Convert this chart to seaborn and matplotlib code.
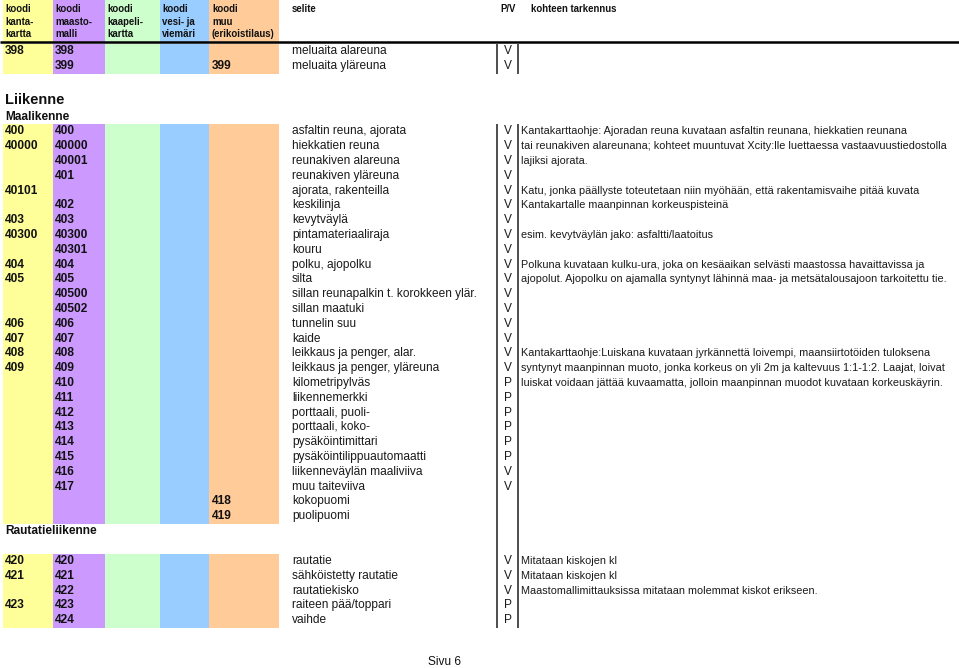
import numpy as np
import matplotlib
matplotlib.use("Agg")
import matplotlib.pyplot as plt
import seaborn as sns
from matplotlib.colors import ListedColormap

# --- Table content ---
HEADERS = [
    ["koodi", "kanta-", "kartta"],
    ["koodi", "maasto-", "malli"],
    ["koodi", "kaapeli-", "kartta"],
    ["koodi", "vesi- ja", "viemäri"],
    ["koodi", "muu", "(erikoistilaus)"],
]
COL_COLORS = ["#FFFF99", "#CC99FF", "#CCFFCC", "#99CCFF", "#FFCC99"]

# meluaidat
melu_kanta = ["398", ""]
melu_maasto = ["398", "399"]
melu_muu = ["", "399"]
melu_selite = ["meluaita alareuna", "meluaita yläreuna"]
melu_pv = ["V", "V"]
melu_tark = ["", ""]

# Liikenne / Maalikenne
maali_kanta = ["400", "40000", "", "", "40101", "", "403", "40300", "", "404", "405",
               "", "", "406", "407", "408", "409", "", "", "", "", "", "", "", "",
               "", ""]
maali_maasto = ["400", "40000", "40001", "401", "", "402", "403", "40300", "40301",
                "404", "405", "40500", "40502", "406", "407", "408", "409", "410",
                "411", "412", "413", "414", "415", "416", "417", "", ""]
maali_muu = [""] * 25 + ["418", "419"]
maali_selite = ["asfaltin reuna, ajorata", "hiekkatien reuna", "reunakiven alareuna",
                "reunakiven yläreuna", "ajorata, rakenteilla", "keskilinja", "kevytväylä",
                "pintamateriaaliraja", "kouru", "polku, ajopolku", "silta",
                "sillan reunapalkin t. korokkeen ylär.", "sillan maatuki", "tunnelin suu",
                "kaide", "leikkaus ja penger, alar.", "leikkaus ja penger, yläreuna",
                "kilometripylväs", "liikennemerkki", "porttaali, puoli-", "porttaali, koko-",
                "pysäköintimittari", "pysäköintilippuautomaatti", "liikenneväylän maaliviiva",
                "muu taiteviiva", "kokopuomi", "puolipuomi"]
maali_pv = ["V"] * 17 + ["P"] * 6 + ["V", "V", "", ""]
maali_tark = [""] * 27
maali_tark[0] = "Kantakarttaohje: Ajoradan reuna kuvataan asfaltin reunana, hiekkatien reunana"
maali_tark[1] = "tai reunakiven alareunana; kohteet muuntuvat Xcity:lle luettaessa vastaavuustiedostolla"
maali_tark[2] = "lajiksi ajorata."
maali_tark[4] = "Katu, jonka päällyste toteutetaan niin myöhään, että rakentamisvaihe pitää kuvata"
maali_tark[5] = "Kantakartalle maanpinnan korkeuspisteinä"
maali_tark[7] = "esim. kevytväylän jako: asfaltti/laatoitus"
maali_tark[9] = "Polkuna kuvataan kulku-ura, joka on kesäaikan selvästi maastossa havaittavissa ja"
maali_tark[10] = "ajopolut. Ajopolku on ajamalla syntynyt lähinnä maa- ja metsätalousajoon tarkoitettu tie."
maali_tark[15] = "Kantakarttaohje:Luiskana kuvataan jyrkännettä loivempi, maansiirtotöiden tuloksena"
maali_tark[16] = "syntynyt maanpinnan muoto, jonka korkeus on yli 2m ja kaltevuus 1:1-1:2. Laajat, loivat"
maali_tark[17] = "luiskat voidaan jättää kuvaamatta, jolloin maanpinnan muodot kuvataan korkeuskäyrin."

# Rautatieliikenne
rata_kanta = ["420", "421", "", "423", ""]
rata_maasto = ["420", "421", "422", "423", "424"]
rata_muu = [""] * 5
rata_selite = ["rautatie", "sähköistetty rautatie", "rautatiekisko",
               "raiteen pää/toppari", "vaihde"]
rata_pv = ["V", "V", "V", "P", "P"]
rata_tark = ["Mitataan kiskojen kl", "Mitataan kiskojen kl",
             "Maastomallimittauksissa mitataan molemmat kiskot erikseen.", "", ""]

# --- Layout (pixels) ---
W, H = 959, 668
COL_W = [50, 52, 55, 49, 70]
BAND_X = 3
COL_X = [5, 55, 107, 162, 212]
PITCH = 14.8
X_SELITE, X_PV, X_TARK = 292, 508, 521
VLINES = [497, 518]

sns.set_theme(style="white")
plt.rcParams["font.family"] = ["Liberation Sans", "DejaVu Sans"]

fig = plt.figure(figsize=(W / 100, H / 100), dpi=100)
cmap = ListedColormap(COL_COLORS)
col_index = np.repeat(np.arange(len(COL_W)), COL_W)[None, :]


def band(top, bottom):
    ax = fig.add_axes([BAND_X / W, 1 - bottom / H, sum(COL_W) / W, (bottom - top) / H])
    sns.heatmap(col_index, cmap=cmap, vmin=-0.5, vmax=4.5, cbar=False,
                xticklabels=False, yticklabels=False, linewidths=0, ax=ax)
    ax.set_axis_off()


band(0, 41.5)
band(44, 44 + 2 * PITCH)
band(124, 124 + 27 * PITCH)
band(553.5, 553.5 + 5 * PITCH)

tax = fig.add_axes([0, 0, 1, 1])
tax.set_xlim(0, W)
tax.set_ylim(H, 0)
tax.set_axis_off()

ink = "#111111"
# header
for x, lines in zip(COL_X, HEADERS):
    for j, s in enumerate(lines):
        tax.text(x, 9 + j * 12.6, s, fontsize=6.9, fontweight="bold", va="center", color=ink)
tax.text(X_SELITE, 9, "selite", fontsize=6.9, fontweight="bold", va="center", color=ink)
tax.text(500, 9, "P/V", fontsize=6.9, fontweight="bold", va="center", color=ink)
tax.text(531, 9, "kohteen tarkennus", fontsize=6.9, fontweight="bold", va="center", color=ink)
tax.plot([0, W], [42, 42], color="black", lw=1.8, solid_capstyle="butt")


def rows(top, kanta, maasto, muu, selite, pv, tark):
    for i in range(len(selite)):
        y = top + (i + 0.5) * PITCH
        for x, code in zip([COL_X[0], COL_X[1], COL_X[4]], [kanta[i], maasto[i], muu[i]]):
            if code:
                tax.text(x, y, code, fontsize=8.6, fontweight="bold", va="center", color=ink)
        tax.text(X_SELITE, y, selite[i], fontsize=8.6, va="center", color="#1a1a1a")
        if pv[i]:
            tax.text(X_PV, y, pv[i], fontsize=8.6, va="center", ha="center", color="#1a1a1a")
        if tark[i]:
            tax.text(X_TARK, y, tark[i], fontsize=7.8, va="center", color="#1a1a1a")


rows(44, melu_kanta, melu_maasto, melu_muu, melu_selite, melu_pv, melu_tark)
rows(124, maali_kanta, maali_maasto, maali_muu, maali_selite, maali_pv, maali_tark)
rows(553.5, rata_kanta, rata_maasto, rata_muu, rata_selite, rata_pv, rata_tark)

tax.vlines(VLINES, 43, 73.5, color="#4d4d4d", lw=1.4)
tax.vlines(VLINES, 124, 628, color="#4d4d4d", lw=1.4)

tax.text(5, 100, "Liikenne", fontsize=10.5, fontweight="bold", va="center", color=ink)
tax.text(5, 116.5, "Maalikenne", fontsize=8.6, fontweight="bold", va="center", color=ink)
tax.text(5, 531.5, "Rautatieliikenne", fontsize=8.6, fontweight="bold", va="center", color=ink)
tax.text(428, 662, "Sivu 6", fontsize=8.6, va="center", color=ink)

fig.savefig("out.png", dpi=100)
